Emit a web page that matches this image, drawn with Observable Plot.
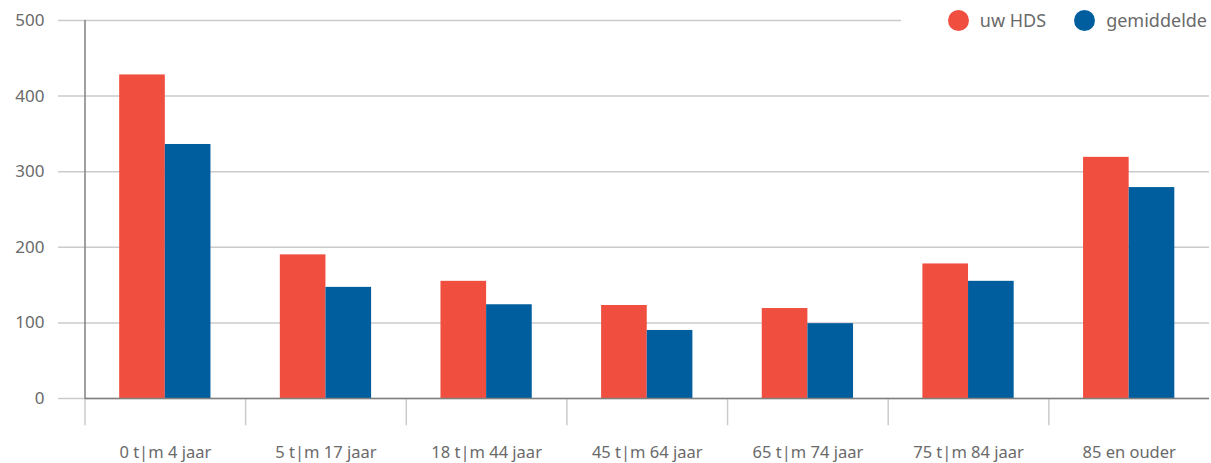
<!DOCTYPE html>
<html>
<head>
<meta charset="utf-8">
<script src="https://cdn.jsdelivr.net/npm/d3@7"></script>
<script src="https://cdn.jsdelivr.net/npm/@observablehq/plot@0.6"></script>
<style>
  body { margin: 0; background: #fff; font-family: "Noto Sans", sans-serif; }
  #chart { position: relative; width: 1211px; height: 463px; }
  .legend {
    position: absolute; left: 901px; top: 6px; width: 310px; height: 28px;
    background: #fff; display: flex; align-items: center; justify-content: flex-end;
    font-size: 18px; color: #6a6a6a;
  }
  .legend .item { display: flex; align-items: center; margin-left: 28px; }
  .legend .swatch { width: 21px; height: 21px; border-radius: 50%; margin-right: 11px; }
  .legend .item:last-child { margin-right: 4px; }
</style>
</head>
<body>
<div id="chart"></div>
<script>
// Leeftijdsgroepen
const categories = ["0 t|m 4 jaar", "5 t|m 17 jaar", "18 t|m 44 jaar", "45 t|m 64 jaar", "65 t|m 74 jaar", "75 t|m 84 jaar", "85 en ouder"];
// Reeksen
const seriesNames = ["uw HDS", "gemiddelde"];
const uwHDS = [428, 190, 155, 123, 119, 178, 319];
const gemiddelde = [336, 147, 124, 90, 99, 155, 279];
const yTicks = [0, 100, 200, 300, 400, 500];
const colors = ["#f04f40", "#005e9e"];

const width = 1211, height = 463;
const marginLeft = 58, marginRight = 2, marginTop = 20, marginBottom = 65;
const xRange = [84.5, width - marginRight];
const bw = (xRange[1] - xRange[0]) / categories.length;

// positie van elke reeks binnen een leeftijdsgroep
const sub = d3.scaleBand().domain(seriesNames).range([0, bw]).paddingInner(0).paddingOuter(0.76);

const rows = categories.flatMap((c, i) => [
  {category: c, series: seriesNames[0], value: uwHDS[i]},
  {category: c, series: seriesNames[1], value: gemiddelde[i]}
]);

const barsFor = (name, color) => Plot.barY(rows.filter(d => d.series === name), {
  x: "category", y: "value", fill: color,
  insetLeft: sub(name), insetRight: bw - sub(name) - sub.bandwidth()
});

const chart = Plot.plot({
  width, height, marginLeft, marginRight, marginTop, marginBottom,
  style: {fontFamily: "Noto Sans, sans-serif", color: "#666", background: "#fff"},
  x: {type: "band", domain: categories, range: xRange, padding: 0, round: false},
  y: {domain: [0, 500], ticks: yTicks},
  marks: [
    Plot.ruleY(yTicks, {stroke: "#cbcbcb", strokeWidth: 1.5}),
    Plot.ruleX(categories, {dx: -bw / 2, y1: 0, y2: -36, stroke: "#cbcbcb", strokeWidth: 1.5}),
    barsFor(seriesNames[0], colors[0]),
    barsFor(seriesNames[1], colors[1]),
    Plot.ruleY([0], {insetLeft: xRange[0] - marginLeft, stroke: "#808080", strokeWidth: 1.5}),
    Plot.ruleX([categories[0]], {dx: -bw / 2, y1: 0, y2: 500, stroke: "#808080", strokeWidth: 1.5}),
    Plot.axisY(yTicks, {tickSize: 0, tickPadding: 14, label: null, fontSize: 17, fill: "#6a6a6a"}),
    Plot.axisX({tickSize: 0, tickPadding: 48, label: null, fontSize: 16.5, fill: "#6a6a6a"})
  ]
});

const root = document.getElementById("chart");
root.appendChild(chart);

const legend = document.createElement("div");
legend.className = "legend";
seriesNames.forEach((name, i) => {
  const item = document.createElement("div");
  item.className = "item";
  const sw = document.createElement("span");
  sw.className = "swatch";
  sw.style.background = colors[i];
  const label = document.createElement("span");
  label.textContent = name;
  item.append(sw, label);
  legend.appendChild(item);
});
root.appendChild(legend);
</script>
</body>
</html>
